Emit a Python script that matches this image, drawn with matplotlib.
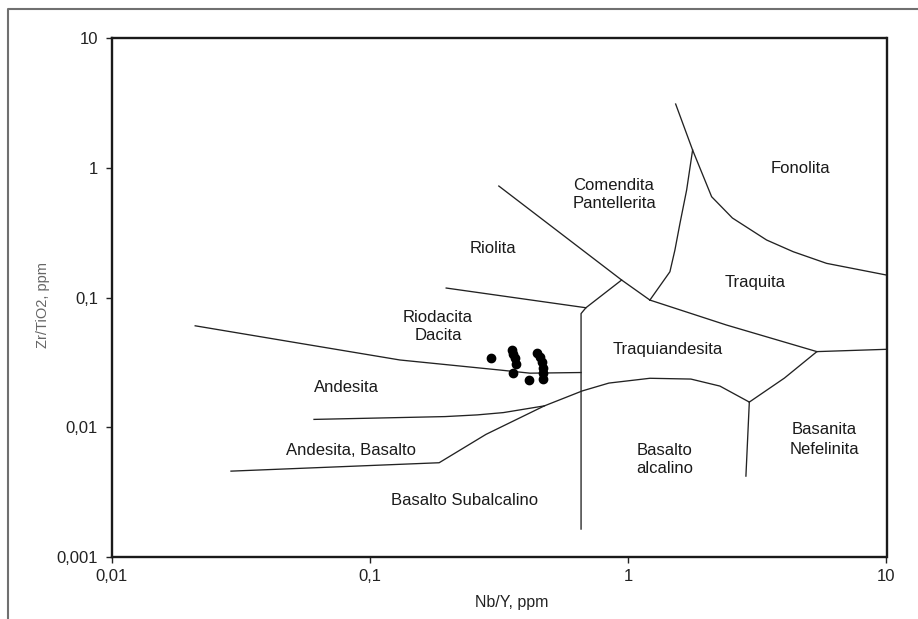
import matplotlib.pyplot as plt
from matplotlib.lines import Line2D

plt.rcParams['font.family'] = ['Liberation Sans', 'DejaVu Sans']

# samples: Nb/Y and Zr/TiO2
nb_y = [0.294, 0.353, 0.357, 0.364, 0.367, 0.356, 0.412,
        0.443, 0.455, 0.465, 0.467, 0.469, 0.469]
zr_tio2 = [0.0340, 0.0395, 0.0368, 0.0343, 0.0311, 0.0265, 0.0232,
           0.0378, 0.0349, 0.0319, 0.0289, 0.0262, 0.0236]

# field boundaries of the Nb/Y - Zr/TiO2 diagram
riolita_comendita_x = [0.315, 0.942, 1.212]
riolita_comendita_y = [0.724, 0.1367, 0.0958]
riodacita_traquiand_x = [0.942, 0.685, 0.656, 0.656]
riodacita_traquiand_y = [0.1367, 0.0836, 0.0754, 0.00165]
riolita_riodacita_x = [0.197, 0.685]
riolita_riodacita_y = [0.1186, 0.0836]
riodacita_andesita_x = [0.021, 0.0534, 0.1304, 0.318, 0.416, 0.656]
riodacita_andesita_y = [0.0607, 0.0445, 0.0331, 0.0277, 0.0262, 0.0265]
andesita_basalto_x = [0.0606, 0.195, 0.260, 0.328, 0.473]
andesita_basalto_y = [0.01154, 0.01213, 0.01250, 0.01302, 0.01467]
subalcalino_x = [0.0289, 0.185, 0.281, 0.473, 0.664, 0.841, 1.212, 1.747, 2.263, 2.942]
subalcalino_y = [0.00461, 0.00535, 0.00885, 0.01467, 0.01914, 0.02198, 0.02393, 0.0236, 0.02084, 0.01569]
basanita_x = [2.942, 2.854]
basanita_y = [0.01569, 0.00422]
traquiand_right_x = [2.942, 4.024, 5.375, 10.0]
traquiand_right_y = [0.01569, 0.02402, 0.0384, 0.0400]
traquita_traquiand_x = [1.212, 2.402, 5.375]
traquita_traquiand_y = [0.0958, 0.0615, 0.0384]
comendita_traquita_x = [1.212, 1.449, 1.515, 1.585, 1.682, 1.774]
comendita_traquita_y = [0.0958, 0.1583, 0.2326, 0.3737, 0.6745, 1.371]
fonolita_x = [1.525, 1.774, 2.102, 2.530, 3.433, 4.353, 5.861, 10.0]
fonolita_y = [3.101, 1.371, 0.599, 0.4106, 0.2779, 0.2258, 0.1837, 0.1493]

boundaries = [
    (riolita_comendita_x, riolita_comendita_y),
    (riodacita_traquiand_x, riodacita_traquiand_y),
    (riolita_riodacita_x, riolita_riodacita_y),
    (riodacita_andesita_x, riodacita_andesita_y),
    (andesita_basalto_x, andesita_basalto_y),
    (subalcalino_x, subalcalino_y),
    (basanita_x, basanita_y),
    (traquiand_right_x, traquiand_right_y),
    (traquita_traquiand_x, traquita_traquiand_y),
    (comendita_traquita_x, comendita_traquita_y),
    (fonolita_x, fonolita_y),
]

# rock field names, one entry per text line
field_names = ["Fonolita", "Comendita", "Pantellerita", "Riolita", "Traquita",
               "Riodacita", "Dacita", "Traquiandesita", "Andesita",
               "Andesita, Basalto", "Basalto", "alcalino", "Basanita",
               "Nefelinita", "Basalto Subalcalino"]
# where each name sits (centre x, baseline y) in data units
field_pos = [(4.66, 0.912), (0.88, 0.674), (0.88, 0.490), (0.299, 0.2207),
             (3.093, 0.1207), (0.183, 0.0655), (0.183, 0.0471), (1.424, 0.0368),
             (0.0806, 0.0189), (0.0842, 0.00613), (1.386, 0.00613),
             (1.386, 0.00449), (5.75, 0.0089), (5.75, 0.00624), (0.233, 0.00253)]

x_ticks = [0.01, 0.1, 1, 10]
x_tick_labels = ['0,01', '0,1', '1', '10']
y_ticks = [0.001, 0.01, 0.1, 1, 10]
y_tick_labels = ['0,001', '0,01', '0,1', '1', '10']

W, H = 918, 619
fig = plt.figure(figsize=(W / 100, H / 100), dpi=100)
ax = fig.add_axes([112 / W, 1 - 557.3 / H, (886.5 - 112) / W, (557.3 - 38) / H])
ax.set_xscale('log')
ax.set_yscale('log')
ax.set_xlim(0.01, 10)
ax.set_ylim(0.001, 10)

for bx, by in boundaries:
    ax.plot(bx, by, color='#222222', lw=0.95, solid_joinstyle='round')

ax.plot(nb_y, zr_tio2, 'o', color='black', ms=6, mec='black', zorder=5)

for name, (tx, ty) in zip(field_names, field_pos):
    ax.text(tx, ty, name, ha='center', va='baseline', fontsize=12, color='#1a1a1a')

ax.set_xticks(x_ticks)
ax.set_xticklabels(x_tick_labels)
ax.set_yticks(y_ticks)
ax.set_yticklabels(y_tick_labels)
ax.minorticks_off()
ax.tick_params(axis='both', direction='out', length=4, width=1.0, colors='#222222',
               labelsize=12)
ax.tick_params(axis='x', pad=4.5)
ax.tick_params(axis='y', pad=6)
for sp in ax.spines.values():
    sp.set_linewidth(1.7)
    sp.set_color('#1a1a1a')

fig.text(512 / W, 1 - 603 / H, 'Nb/Y, ppm', ha='center', va='center',
         fontsize=11.5, color='#222222')
fig.text(43.5 / W, 1 - 305.5 / H, 'Zr/TiO2, ppm', ha='center', va='center',
         rotation=90, fontsize=10.5, color='#666666')

# grey frame round the figure
fig.add_artist(Line2D([8 / W, 8 / W, 1], [0, 1 - 9 / H, 1 - 9 / H],
                      transform=fig.transFigure, color='#707070', lw=1.5))

fig.savefig('out.png', dpi=100)
